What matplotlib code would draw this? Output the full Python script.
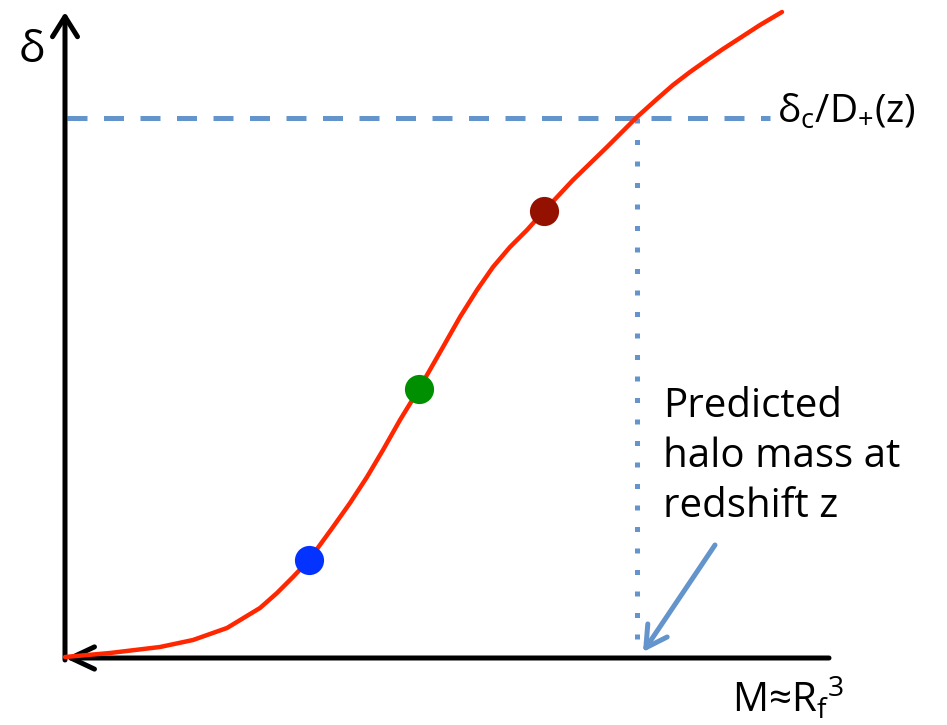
import matplotlib.pyplot as plt

plt.rcParams['font.family'] = ['Open Sans', 'DejaVu Sans']
plt.rcParams['mathtext.fontset'] = 'custom'
plt.rcParams['mathtext.rm'] = 'Open Sans'
plt.rcParams['mathtext.it'] = 'Open Sans:italic'

# curve (mass axis, delta axis)
mass = [0.00, 0.45, 0.95, 1.28, 1.62, 1.95, 2.12, 2.28, 2.44, 2.68, 2.85,
        3.02, 3.18, 3.35, 3.54, 3.78, 3.95, 4.12, 4.28, 4.45, 4.62, 4.79,
        5.08, 5.42, 5.72, 5.92, 6.08, 6.25, 6.42, 6.58, 6.75, 6.95, 7.17]
delta = [0.00, 0.04, 0.10, 0.17, 0.29, 0.49, 0.64, 0.80, 0.97, 1.30, 1.54,
         1.80, 2.07, 2.37, 2.68, 3.10, 3.40, 3.67, 3.90, 4.10, 4.27, 4.46,
         4.77, 5.10, 5.40, 5.58, 5.72, 5.85, 5.97, 6.08, 6.19, 6.32, 6.45]

threshold = 5.39      # delta_c / D+(z)
halo_mass = 5.72      # where the curve crosses the threshold

dot_mass = [2.44, 3.54, 4.79]
dot_delta = [0.97, 2.68, 4.46]
dot_colors = ['#0433ff', '#008f00', '#941100']

fig = plt.figure(figsize=(9.47, 7.25), dpi=100)
ax = fig.add_axes([0, 0, 1, 1])
ax.set_xlim(-0.65, 8.82)
ax.set_ylim(-0.68, 6.57)
ax.axis('off')

line_blue = '#6394cc'

# axes with arrows
ax.annotate('', xy=(0, 6.45), xytext=(0, -0.03),
            arrowprops=dict(arrowstyle='->,head_length=0.72,head_width=0.45',
                            lw=3.6, color='black', mutation_scale=20,
                            shrinkA=0, shrinkB=0))
ax.annotate('', xy=(0, -0.01), xytext=(7.64, -0.01),
            arrowprops=dict(arrowstyle='->,head_length=0.85,head_width=0.4',
                            lw=3.6, color='black', mutation_scale=20,
                            shrinkA=0, shrinkB=0))

# threshold and predicted mass
ax.plot([0.02, 7.05], [threshold, threshold], color=line_blue, lw=3.6,
        dashes=(4, 3.3), solid_capstyle='butt', dash_capstyle='butt')
ax.plot([halo_mass, halo_mass], [threshold, 0.0], color=line_blue, lw=3.6,
        dashes=(1, 3.3), dash_capstyle='butt')

ax.plot(mass, delta, color='#ff2600', lw=3.2, solid_capstyle='round',
        solid_joinstyle='round', zorder=3)
for m, d, c in zip(dot_mass, dot_delta, dot_colors):
    ax.plot(m, d, 'o', color=c, markersize=21, markeredgewidth=0, zorder=4)

ax.annotate('', xy=(5.78, 0.05), xytext=(6.50, 1.12),
            arrowprops=dict(arrowstyle='->,head_length=0.75,head_width=0.42',
                            lw=3.6, color=line_blue, mutation_scale=20,
                            shrinkA=0, shrinkB=0))

# labels
ax.text(-0.33, 6.06, 'δ', fontsize=32, ha='center', va='center')
ax.text(7.12, 5.34, r'$\mathregular{δ_c/D_{{+}}(z)}$', fontsize=28,
        ha='left', va='baseline')
ax.text(5.98, 2.40, 'Predicted', fontsize=29, ha='left', va='baseline')
ax.text(5.98, 1.90, 'halo mass at', fontsize=29, ha='left', va='baseline')
ax.text(5.98, 1.40, 'redshift z', fontsize=29, ha='left', va='baseline')
ax.text(6.67, -0.55, r'$\mathregular{M≈R_f{}^3}$', fontsize=29,
        ha='left', va='baseline')

fig.savefig('out.png', dpi=100)
